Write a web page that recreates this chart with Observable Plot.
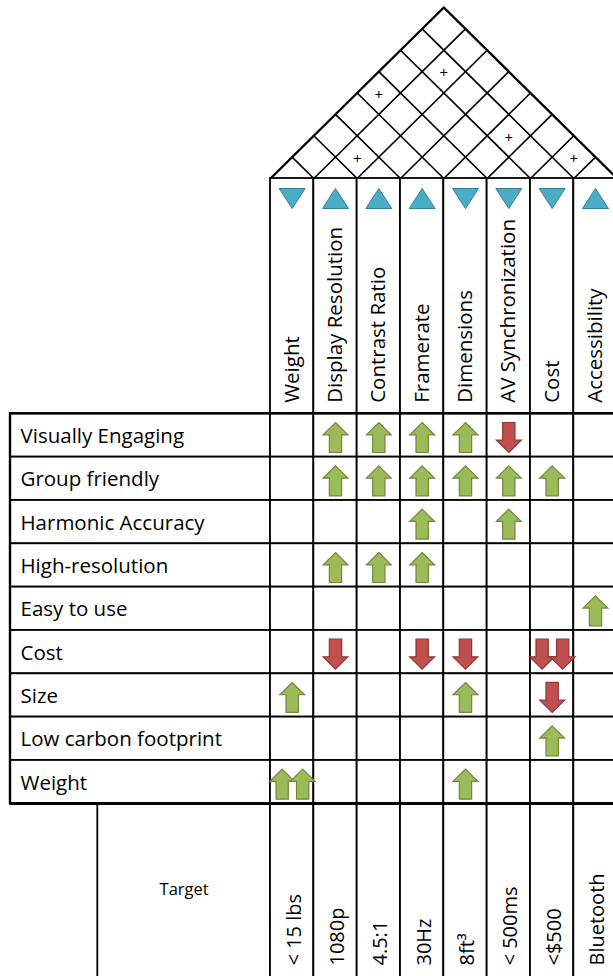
<!DOCTYPE html>
<html>
<head>
<meta charset="utf-8">
<script src="https://cdn.jsdelivr.net/npm/d3@7"></script>
<script src="https://cdn.jsdelivr.net/npm/@observablehq/plot@0.6"></script>
<style>
  html, body { margin: 0; padding: 0; background: #fff; }
  #chart svg { display: block; }
</style>
</head>
<body>
<div id="chart"></div>
<script>
// ---------- DATA ----------
const engChars = ["Weight", "Display Resolution", "Contrast Ratio", "Framerate", "Dimensions", "AV Synchronization", "Cost", "Accessibility"];
const improvementDir = ["down", "up", "up", "up", "down", "down", "down", "up"];
const targets = ["< 15 lbs", "1080p", "4.5:1", "30Hz", "8ft³", "< 500ms", "<$500", "Bluetooth"];
const customerNeeds = ["Visually Engaging", "Group friendly", "Harmonic Accuracy", "High-resolution", "Easy to use", "Cost", "Size", "Low carbon footprint", "Weight"];
// "+" = positive (green up arrow), "-" = negative (red down arrow), doubled = two arrows
const relationships = [
  ["",   "+", "+", "+", "+", "-", "",   ""],
  ["",   "+", "+", "+", "+", "+", "+",  ""],
  ["",   "",  "",  "+", "",  "+", "",   ""],
  ["",   "+", "+", "+", "",  "",  "",   ""],
  ["",   "",  "",  "",  "",  "",  "",   "+"],
  ["",   "-", "",  "-", "-", "",  "--", ""],
  ["+",  "",  "",  "",  "+", "",  "-",  ""],
  ["",   "",  "",  "",  "",  "",  "+",  ""],
  ["++", "",  "",  "",  "+", "",  "",   ""]
];
// roof correlations: [column i, column j, sign]
const correlations = [[1, 2, "+"], [6, 7, "+"], [4, 6, "+"], [0, 4, "+"], [1, 6, "+"]];
const targetLabel = "Target";

// ---------- LAYOUT ----------
const W = 613, H = 976;
const gridLeft = 270, colW = 43.33, rowTop = 413.33, rowH = 43.33;
const headerTop = 178, roofH = 171, labelLeft = 10, targetLeft = 97.3, bottomY = 990;
const nC = engChars.length, nR = customerNeeds.length;
const colL = i => gridLeft + i * colW;
const colM = i => gridLeft + (i + 0.5) * colW;
const rowT = r => rowTop + r * rowH;
const rowM = r => rowTop + (r + 0.5) * rowH;
const gridBottom = rowT(nR);
const roofX = u => gridLeft + u * colW;
const roofY = v => headerTop - v * roofH * 2 / nC;
const FONT = "Open Sans, Segoe UI, sans-serif";
const FS = 20.5;

// custom symbols
function arrowSym(dir) {
  return {
    draw(ctx, size) {
      const r = Math.sqrt(size / Math.PI);
      const s = dir === "up" ? 1 : -1;
      const hw = 0.83 * r, sw = 0.41 * r, hb = -r + 0.82 * r;
      const pts = [[0, -r], [hw, hb], [sw, hb], [sw, r], [-sw, r], [-sw, hb], [-hw, hb]];
      pts.forEach(([x, y], k) => k ? ctx.lineTo(x, s * y) : ctx.moveTo(x, s * y));
      ctx.closePath();
    }
  };
}
function triSym(dir) {
  return {
    draw(ctx, size) {
      const r = Math.sqrt(size / Math.PI);
      const s = dir === "up" ? 1 : -1;
      ctx.moveTo(0, -r * s);
      ctx.lineTo(1.3 * r, r * s);
      ctx.lineTo(-1.3 * r, r * s);
      ctx.closePath();
    }
  };
}

// derived tables
const cols = engChars.map((name, i) => ({ i, name, dir: improvementDir[i], target: targets[i] }));
const rows = customerNeeds.map((name, r) => ({ r, name }));
const cells = [];
rows.forEach(({ r }) => cols.forEach(({ i }) => cells.push({ r, i })));
const arrows = [];
relationships.forEach((row, r) => row.forEach((code, i) => {
  if (!code) return;
  const dir = code[0] === "+" ? "up" : "down";
  const n = code.length;
  for (let k = 0; k < n; k++) {
    const off = n === 1 ? 0 : (k === 0 ? -10 : 10.5);
    arrows.push({ r, i, dir, x: colM(i) + off, y: rowM(r) + 2 });
  }
}));
const diagonals = [];
for (let k = 1; k < nC; k++) {
  diagonals.push({ x1: k, y1: 0, x2: (nC + k) / 2, y2: (nC - k) / 2 });
  diagonals.push({ x1: k, y1: 0, x2: k / 2, y2: k / 2 });
}
const roofOutline = [{ u: 0, v: 0 }, { u: nC / 2, v: nC / 2 }, { u: nC, v: 0 }];
const roofMarks = correlations.map(([i, j, s]) => ({ u: (i + j + 1) / 2, v: (j - i) / 2, s }));

const lineW = 1.8, outerW = 2.4;

const chart = Plot.plot({
  width: W, height: H,
  margin: 0,
  style: { fontFamily: FONT, background: "#fff", color: "#000" },
  x: { domain: [0, W], range: [0, W], axis: null },
  y: { domain: [0, H], range: [0, H], axis: null },
  marks: [
    // roof
    Plot.link(diagonals, { x1: d => roofX(d.x1), y1: d => roofY(d.y1), x2: d => roofX(d.x2), y2: d => roofY(d.y2), stroke: "#000", strokeWidth: 1.7 }),
    Plot.line(roofOutline, { x: d => roofX(d.u), y: d => roofY(d.v), stroke: "#000", strokeWidth: outerW }),
    Plot.text(roofMarks, { x: d => roofX(d.u), y: d => roofY(d.v), text: "s", fontSize: 15, dy: 2, fill: "#000" }),
    // header cells
    Plot.rect(cols, { x1: d => colL(d.i), x2: d => colL(d.i + 1), y1: headerTop, y2: rowTop, fill: "#fff", stroke: "#000", strokeWidth: lineW }),
    Plot.dot(cols.filter(d => d.dir === "up"), { x: d => colM(d.i), y: headerTop + 20, r: 10, symbol: triSym("up"), fill: "#4BACC6", stroke: "#357F94", strokeWidth: 1 }),
    Plot.dot(cols.filter(d => d.dir === "down"), { x: d => colM(d.i), y: headerTop + 20, r: 10, symbol: triSym("down"), fill: "#4BACC6", stroke: "#357F94", strokeWidth: 1 }),
    Plot.text(cols, { x: d => colM(d.i), y: rowTop - 11, text: "name", rotate: -90, textAnchor: "start", lineAnchor: "middle", fontSize: FS, fill: "#000" }),
    // customer needs
    Plot.rect(rows, { x1: labelLeft, x2: gridLeft, y1: d => rowT(d.r), y2: d => rowT(d.r + 1), fill: "#fff", stroke: "#000", strokeWidth: lineW }),
    Plot.text(rows, { x: labelLeft + 10, y: d => rowM(d.r) + 1, text: "name", textAnchor: "start", fontSize: FS, fill: "#000" }),
    // relationship matrix
    Plot.rect(cells, { x1: d => colL(d.i), x2: d => colL(d.i + 1), y1: d => rowT(d.r), y2: d => rowT(d.r + 1), fill: "#fff", stroke: "#000", strokeWidth: lineW }),
    Plot.dot(arrows.filter(d => d.dir === "up"), { x: "x", y: "y", r: 15, symbol: arrowSym("up"), fill: "#9BBB59", stroke: "#71893F", strokeWidth: 1.2 }),
    Plot.dot(arrows.filter(d => d.dir === "down"), { x: "x", y: "y", r: 15, symbol: arrowSym("down"), fill: "#C0504D", stroke: "#8C3836", strokeWidth: 1.2 }),
    // outer frame of the needs block
    Plot.rect([0], { x1: labelLeft, x2: gridLeft + nC * colW, y1: rowTop, y2: gridBottom, fill: "none", stroke: "#000", strokeWidth: outerW }),
    // targets
    Plot.rect([0], { x1: targetLeft, x2: gridLeft, y1: gridBottom, y2: bottomY, fill: "#fff", stroke: "#000", strokeWidth: lineW }),
    Plot.text([targetLabel], { x: (targetLeft + gridLeft) / 2, y: 889, text: d => d, fontSize: 16.5, fill: "#000" }),
    Plot.rect(cols, { x1: d => colL(d.i), x2: d => colL(d.i + 1), y1: gridBottom, y2: bottomY, fill: "#fff", stroke: "#000", strokeWidth: lineW }),
    Plot.text(cols, { x: d => colM(d.i) + 2, y: 965, text: "target", rotate: -90, textAnchor: "start", lineAnchor: "middle", fontSize: 20, fill: "#000" }),
    Plot.ruleY([gridBottom], { x1: labelLeft, x2: gridLeft + nC * colW, stroke: "#000", strokeWidth: outerW })
  ]
});
document.getElementById("chart").appendChild(chart);
</script>
</body>
</html>
